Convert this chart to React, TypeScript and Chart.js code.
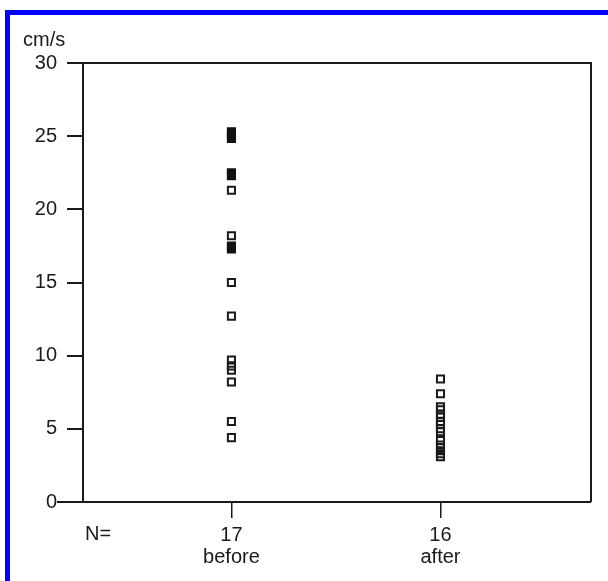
import React, { useEffect, useRef } from 'react';
import { Chart, registerables } from 'chart.js';

Chart.register(...registerables);

// ---- data ----
const groups = ['before', 'after'];
const beforeOpen = [21.3, 18.2, 15.0, 12.7, 9.7, 9.3, 9.0, 8.2, 5.5, 4.4];
const beforeFilled = [25.3, 25.1, 24.85, 22.5, 22.3, 17.5, 17.3];
const afterOpen = [8.4, 7.4, 6.5, 6.3, 6.0, 5.8, 5.5, 5.3, 5.0, 4.8, 4.2, 3.9, 3.7, 3.5, 3.3, 3.1];
const yTicks = [0, 5, 10, 15, 20, 25, 30];
const yUnit = 'cm/s';
const nLabel = 'N=';

const counts = [beforeOpen.length + beforeFilled.length, afterOpen.length];
const FONT = '"Liberation Sans", Arial, sans-serif';
const INK = '#1a1a1a';

const framePlugin = {
  id: 'frame',
  afterDraw(chart: any) {
    const { ctx, chartArea } = chart;
    const { left, right, top, bottom } = chartArea;
    ctx.save();
    ctx.strokeStyle = INK;
    ctx.lineWidth = 2;
    ctx.beginPath();
    ctx.moveTo(left - 16, top);
    ctx.lineTo(right, top);
    ctx.lineTo(right, bottom);
    ctx.moveTo(left - 26, bottom);
    ctx.lineTo(right, bottom);
    ctx.stroke();
    ctx.fillStyle = INK;
    ctx.font = `20px ${FONT}`;
    ctx.textAlign = 'left';
    ctx.textBaseline = 'alphabetic';
    ctx.fillText(yUnit, left - 60, top - 17);
    const xs = chart.scales.x;
    ctx.textBaseline = 'top';
    ctx.fillText(nLabel, left + 2, xs.top + 16 + 6);
    ctx.restore();
  },
};

export default function App() {
  const ref = useRef<HTMLCanvasElement | null>(null);
  useEffect(() => {
    if (!ref.current) return;
    const chart = new Chart(ref.current, {
      type: 'scatter',
      data: {
        datasets: [
          {
            label: 'open',
            data: [
              ...beforeOpen.map((v) => ({ x: 1, y: v })),
              ...afterOpen.map((v) => ({ x: 2, y: v })),
            ],
            pointStyle: 'rect',
            pointRadius: 5,
            pointBorderWidth: 2,
            borderColor: INK,
            backgroundColor: 'rgba(0,0,0,0)',
          },
          {
            label: 'filled',
            data: beforeFilled.map((v) => ({ x: 1, y: v })),
            pointStyle: 'rect',
            pointRadius: 5,
            pointBorderWidth: 2,
            borderColor: '#111',
            backgroundColor: '#111',
          },
        ],
      },
      options: {
        responsive: false,
        animation: false,
        devicePixelRatio: 1,
        layout: { padding: { left: 0, right: 17, top: 63, bottom: 0 } },
        plugins: { legend: { display: false }, tooltip: { enabled: false }, title: { display: false } },
        scales: {
          x: {
            type: 'linear',
            min: 0.29,
            max: 2.72,
            afterBuildTicks: (s: any) => {
              s.ticks = groups.map((_, i) => ({ value: i + 1 }));
            },
            afterFit: (s: any) => {
              s.height = 79;
            },
            ticks: {
              autoSkip: false,
              maxRotation: 0,
              padding: 6,
              color: INK,
              font: { family: FONT, size: 20, lineHeight: 1.1 },
              callback: (v: any) => {
                const i = Math.round(Number(v)) - 1;
                return [String(counts[i]), groups[i]];
              },
            },
            grid: { drawOnChartArea: false, drawTicks: true, tickLength: 16, color: INK, lineWidth: 1.5 },
            border: { display: false },
          },
          y: {
            min: 0,
            max: 30,
            afterBuildTicks: (s: any) => {
              s.ticks = yTicks.map((v) => ({ value: v }));
            },
            afterFit: (s: any) => {
              s.width = 83;
            },
            ticks: { padding: 10, color: INK, font: { family: FONT, size: 20 } },
            grid: { drawOnChartArea: false, drawTicks: true, tickLength: 16, color: INK, lineWidth: 2 },
            border: { display: true, width: 2, color: INK },
          },
        },
      },
      plugins: [framePlugin],
    });
    return () => chart.destroy();
  }, []);

  return (
    <div style={{ position: 'fixed', left: 0, top: 0, width: 608, height: 581, background: '#fff' }}>
      <canvas ref={ref} width={608} height={581} style={{ display: 'block', width: 608, height: 581 }} />
      <div
        style={{
          position: 'absolute',
          left: 5,
          top: 10,
          right: 0,
          bottom: 0,
          borderTop: '5px solid #0000ff',
          borderLeft: '5px solid #0000ff',
          pointerEvents: 'none',
        }}
      />
    </div>
  );
}
